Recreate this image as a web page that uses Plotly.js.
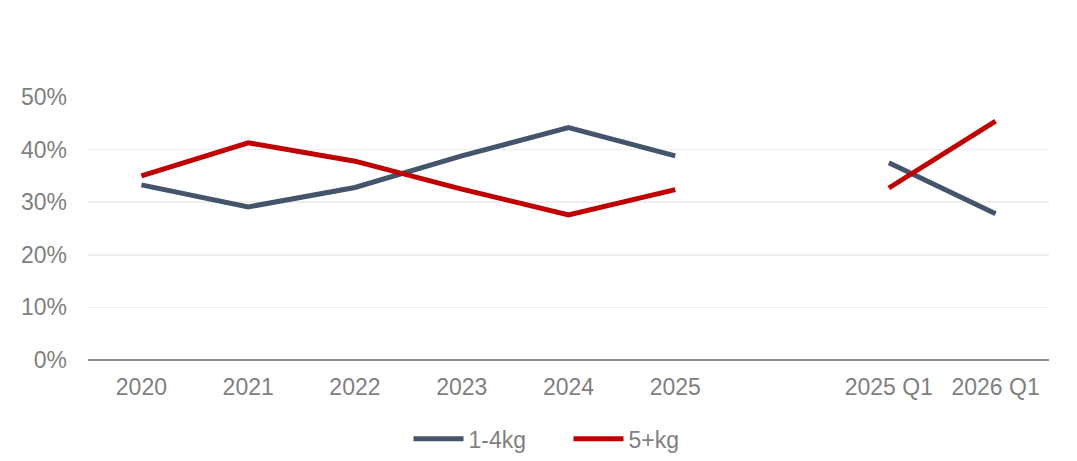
<!DOCTYPE html>
<html><head><meta charset="utf-8">
<script src="https://cdn.plot.ly/plotly-3.0.1.min.js"></script>
<style>html,body{margin:0;padding:0;background:#fff}#chart{width:1077px;height:461px}</style>
</head><body><div id="chart"></div>
<script>
const categories = ["2020","2021","2022","2023","2024","2025"," ","2025 Q1","2026 Q1"];
const series1Name = "1-4kg";
const series1 = [0.333,0.291,0.328,0.388,0.442,0.388,null,0.375,0.278];
const series2Name = "5+kg";
const series2 = [0.350,0.413,0.378,0.325,0.276,0.324,null,0.327,0.454];
const yTickVals = [0,0.1,0.2,0.3,0.4,0.5];

const font = {family:"Liberation Sans, Arial, sans-serif", size:23, color:"#7f7f7f"};
const traces = [
  {x:categories, y:series1, name:series1Name, type:"scatter", mode:"lines",
   line:{color:"#44546A", width:5}, connectgaps:false},
  {x:categories, y:series2, name:series2Name, type:"scatter", mode:"lines",
   line:{color:"#C00000", width:5}, connectgaps:false}
];
const layout = {
  width:1077, height:461,
  margin:{l:88, r:28, t:97, b:101, autoexpand:false},
  paper_bgcolor:"#fff", plot_bgcolor:"#fff",
  font:font,
  showlegend:true,
  legend:{orientation:"h", x:0.5, xanchor:"center", y:-0.3, yanchor:"middle", font:font, entrywidth:95, entrywidthmode:"pixels", itemwidth:50},
  xaxis:{type:"category", showgrid:false, zeroline:false, showline:false, ticks:"", tickfont:font, automargin:false,
    range:[-0.5, 8.5], ticklabelstandoff:11},
  yaxis:{range:[0,0.5], tickvals:yTickVals, tickformat:".0%", showgrid:true, gridcolor:"#eeeeee", gridwidth:1.5, automargin:false,
    zeroline:true, zerolinecolor:"#8c8c8c", zerolinewidth:2, showline:false, ticks:"", tickfont:font, ticklabelstandoff:20}
};
Plotly.newPlot("chart", traces, layout, {displayModeBar:false, staticPlot:true});
</script></body></html>
